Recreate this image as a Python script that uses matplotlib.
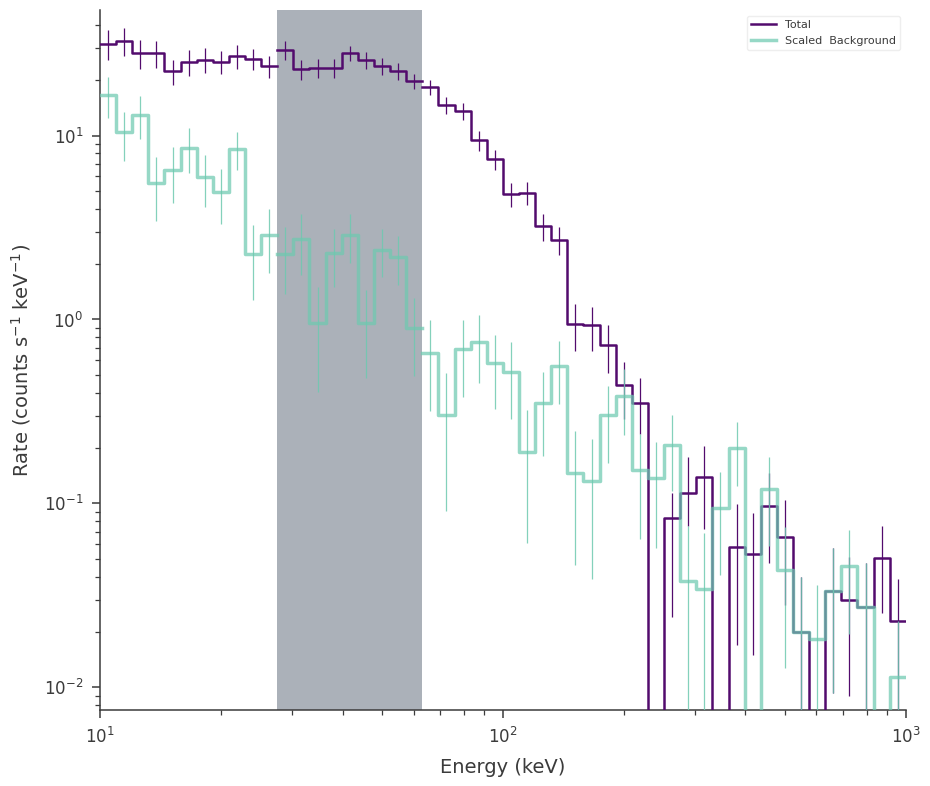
import numpy as np
import matplotlib
matplotlib.use("Agg")
import matplotlib.pyplot as plt

# ---- data ----
e_min, e_max, n_bins = 10.0, 1000.0, 50
masked_first_bin, masked_last_bin = 11, 20   # shaded (excluded) bins [11, 20)

total = [31.5, 32.6, 28.1, 28.1, 22.4, 25.0, 25.9, 25.2, 26.9, 26.0, 23.8,
         29.1, 22.9, 23.3, 23.3, 28.1, 25.7, 23.8, 22.4, 19.7,
         18.3, 14.6, 13.6, 9.42, 7.44, 4.80, 4.88, 3.21, 2.71, 0.943,
         0.928, 0.723, 0.438, 0.351, 0.0, 0.083, 0.114, 0.139, 0.0, 0.058,
         0.053, 0.0966, 0.0659, 0.020, 0.0, 0.0333, 0.030, 0.0275, 0.0502, 0.0229]
total_err_lo = [5.8, 5.6, 5.0, 4.7, 3.5, 4.0, 3.9, 3.7, 4.0, 3.4, 3.2,
                3.5, 2.9, 2.8, 2.8, 2.6, 2.6, 2.5, 2.3, 1.85,
                1.7, 1.5, 1.5, 1.15, 0.95, 0.7, 0.7, 0.55, 0.47, 0.27,
                0.255, 0.21, 0.15, 0.114, 0.0, 0.059, 0.039, 0.066, 0.0, 0.041,
                0.038, 0.049, 0.038, 0.020, 0.0, 0.024, 0.021, 0.020, 0.025, 0.0157]
total_err_hi = [5.8, 5.6, 5.0, 4.7, 3.5, 4.0, 3.9, 3.7, 4.0, 3.4, 3.2,
                3.5, 2.9, 2.8, 2.8, 2.6, 2.6, 2.5, 2.3, 1.85,
                1.7, 1.5, 1.5, 1.15, 0.95, 0.7, 0.7, 0.55, 0.47, 0.27,
                0.24, 0.21, 0.15, 0.13, 0.0, 0.031, 0.065, 0.066, 0.0, 0.041,
                0.036, 0.049, 0.038, 0.020, 0.0, 0.024, 0.021, 0.020, 0.025, 0.0157]

background = [16.6, 10.4, 12.96, 5.53, 6.51, 8.57, 5.96, 4.94, 8.46, 2.27, 2.89,
              2.27, 2.74, 0.951, 2.30, 2.89, 0.96, 2.40, 2.19, 0.90,
              0.659, 0.301, 0.687, 0.753, 0.577, 0.521, 0.191, 0.350, 0.556, 0.146,
              0.132, 0.301, 0.386, 0.151, 0.137, 0.209, 0.038, 0.0343, 0.0948, 0.201,
              0.0, 0.119, 0.0437, 0.020, 0.0182, 0.0333, 0.0456, 0.0275, 0.0, 0.0114]
background_err = [4.2, 3.1, 3.4, 2.1, 2.2, 2.35, 1.85, 1.65, 2.0, 1.0, 1.1,
                  0.9, 1.0, 0.55, 0.8, 0.87, 0.48, 0.7, 0.66, 0.41,
                  0.34, 0.21, 0.31, 0.3, 0.25, 0.235, 0.13, 0.17, 0.21, 0.1,
                  0.093, 0.135, 0.15, 0.087, 0.08, 0.092, 0.037, 0.035, 0.054, 0.077,
                  0.0, 0.06, 0.031, 0.020, 0.018, 0.024, 0.026, 0.020, 0.0, 0.0115]

labels = ["Total", "Scaled  Background"]

# ---- style ----
purple = "#520b6d"
teal = "#6ec9b0"
shade = "#abb1b9"
dark = "#3b3b3b"

plt.rcParams.update({
    "font.family": ["DejaVu Sans"],
    "axes.edgecolor": dark,
    "axes.labelcolor": dark,
    "xtick.color": dark,
    "ytick.color": dark,
    "axes.linewidth": 1.1,
})

edges = np.logspace(np.log10(e_min), np.log10(e_max), n_bins + 1)
centers = np.sqrt(edges[:-1] * edges[1:])

fig = plt.figure(figsize=(9.3, 7.86), dpi=100)
ax = fig.add_axes([0.1075, 0.0967, 0.974 - 0.1075, 0.987 - 0.0967])
ax.set_xscale("log")
ax.set_yscale("log", nonpositive="clip")

ax.axvspan(edges[masked_first_bin], edges[masked_last_bin], color=shade, zorder=0, lw=0)

tot = np.array(total)
bkg = np.array(background)
segments = [(0, masked_first_bin), (masked_first_bin, masked_last_bin), (masked_last_bin, n_bins)]
for i, (a, b) in enumerate(segments):
    x = edges[a:b + 1]
    yt = np.append(tot[a:b], tot[b - 1])
    yb = np.append(bkg[a:b], bkg[b - 1])
    ax.step(x, yt, where="post", color=purple, lw=1.8, zorder=3,
            label=labels[0] if i == 0 else None)
    ax.step(x, yb, where="post", color=teal, lw=2.5, alpha=0.72, zorder=4,
            label=labels[1] if i == 0 else None)

ax.errorbar(centers, tot, yerr=[total_err_lo, total_err_hi], fmt="none",
            ecolor=purple, elinewidth=0.9, capsize=0, zorder=3)
ax.errorbar(centers, bkg, yerr=background_err, fmt="none",
            ecolor=teal, elinewidth=0.9, alpha=0.85, capsize=0, zorder=4)

ax.set_xlim(e_min, e_max)
ax.set_ylim(0.00753, 48)

for s in ("top", "right"):
    ax.spines[s].set_visible(False)
ax.tick_params(which="major", direction="out", length=6, width=1.1, labelsize=12, pad=6)
ax.tick_params(which="minor", direction="out", length=3.5, width=0.9)

ax.set_xlabel("Energy (keV)", fontsize=14, labelpad=8)
ax.set_ylabel("Rate (counts s$^{-1}$ keV$^{-1}$)", fontsize=14, labelpad=8)

leg = ax.legend(loc="upper right", fontsize=8, frameon=True, framealpha=1,
                edgecolor="#eeeeee", handlelength=2.2)
for t in leg.get_texts():
    t.set_color(dark)

fig.savefig("out.png", dpi=100)
